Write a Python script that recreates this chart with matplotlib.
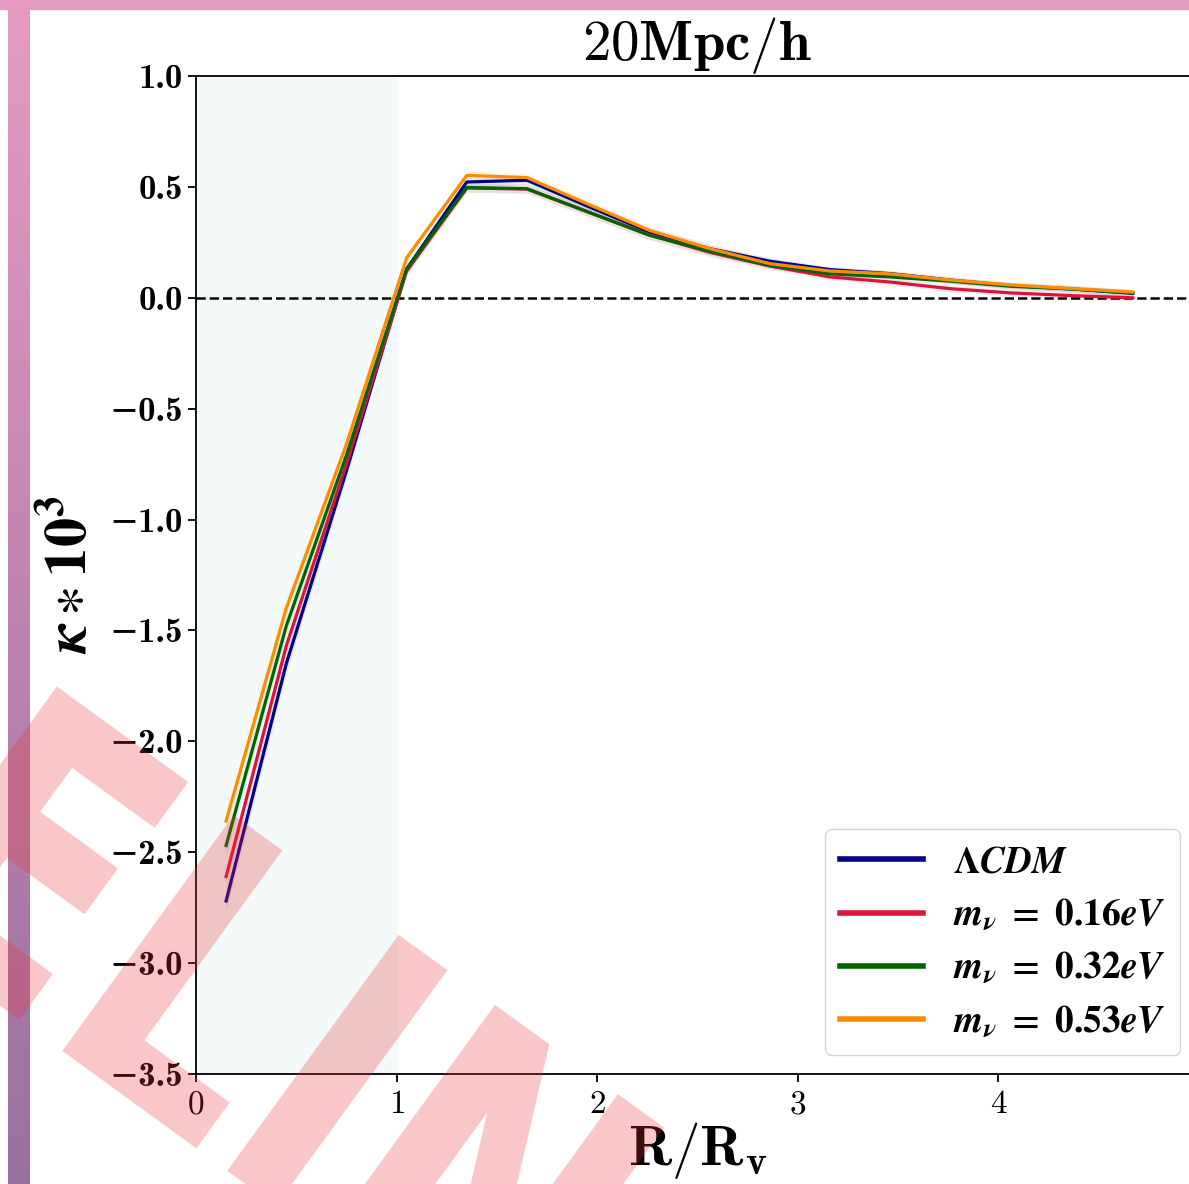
import matplotlib
matplotlib.use("Agg")
import matplotlib.pyplot as plt
import numpy as np
from matplotlib.textpath import TextPath
from matplotlib.patches import PathPatch
from matplotlib.font_manager import FontProperties
from matplotlib.transforms import Affine2D

plt.rcParams.update({
    "mathtext.fontset": "cm",
    "font.size": 24,
    "axes.linewidth": 1.3,
})

# kappa profile around voids, 20 Mpc/h smoothing
r_over_rv = [0.15, 0.45, 0.75, 1.05, 1.35, 1.65, 1.96, 2.26,
             2.56, 2.86, 3.16, 3.46, 3.76, 4.06, 4.36, 4.67]

kappa_lcdm = [-2.72, -1.65, -0.78, 0.13, 0.522, 0.530, 0.410, 0.297,
              0.222, 0.165, 0.127, 0.109, 0.080, 0.055, 0.040, 0.020]
kappa_016 = [-2.61, -1.57, -0.75, 0.12, 0.495, 0.490, 0.385, 0.284,
             0.205, 0.143, 0.094, 0.071, 0.041, 0.022, 0.010, 0.000]
kappa_032 = [-2.47, -1.48, -0.71, 0.13, 0.497, 0.492, 0.385, 0.282,
             0.210, 0.146, 0.108, 0.094, 0.075, 0.052, 0.040, 0.022]
kappa_053 = [-2.36, -1.40, -0.66, 0.18, 0.552, 0.542, 0.420, 0.304,
             0.222, 0.154, 0.121, 0.108, 0.080, 0.058, 0.042, 0.026]

# error on the mean (same for all runs)
kappa_err = [0.05, 0.04, 0.03, 0.02, 0.02, 0.02, 0.02, 0.02,
             0.02, 0.015, 0.015, 0.015, 0.015, 0.015, 0.015, 0.015]

labels = [r"$\mathbf{\Lambda}\mathbfit{CDM}$",
          r"$\mathbfit{m_{\nu}}\ \mathbf{=}\ \mathbf{0.16}\mathbfit{eV}$",
          r"$\mathbfit{m_{\nu}}\ \mathbf{=}\ \mathbf{0.32}\mathbfit{eV}$",
          r"$\mathbfit{m_{\nu}}\ \mathbf{=}\ \mathbf{0.53}\mathbfit{eV}$"]
colors = ["darkblue", "crimson", "darkgreen", "darkorange"]
profiles = [kappa_lcdm, kappa_016, kappa_032, kappa_053]

yticks = [1.0, 0.5, 0.0, -0.5, -1.0, -1.5, -2.0, -2.5, -3.0, -3.5]
xticks = [0, 1, 2, 3, 4]

W, H = 1189, 1184
fig = plt.figure(figsize=(W / 100, H / 100), dpi=100)
ax = fig.add_axes([196 / W, 110 / H, (1199 - 196) / W, (1074 - 76) / H])

ax.axvspan(0, 1, color="#f4fafa", zorder=0)
ax.axhline(0, color="black", ls="--", lw=1.8, zorder=1)

x = np.array(r_over_rv)
err = np.array(kappa_err)
for prof, c, lab in zip(profiles, colors, labels):
    y = np.array(prof)
    ax.fill_between(x, y - err, y + err, color=c, alpha=0.08, lw=0)
    ax.plot(x, y, color=c, lw=2.3, label=lab)

ax.set_xlim(0, 5)
ax.set_ylim(-3.5, 1.0)
ax.set_xticks(xticks)
ax.set_xticklabels([r"$%d$" % t for t in xticks], fontsize=24)
ax.set_yticks(yticks)
ax.set_yticklabels([("%.1f" % t).replace("-", "\u2212") for t in yticks],
                   fontsize=25, family=["cmb10", "DejaVu Sans"])
ax.tick_params(length=6, width=1.3)
ax.spines["right"].set_visible(False)

ax.set_title(r"$20\mathbf{Mpc/h}$", fontsize=41, pad=4)
ax.set_xlabel(r"$\mathbf{R/R_v}$", fontsize=41, labelpad=0)
ax.set_ylabel(r"$\mathbfit{\kappa} \ast \mathbf{10^3}$", fontsize=42,
              math_fontfamily="stix", labelpad=8)

leg = ax.legend(loc="lower right", fontsize=27, handlelength=2.2,
                framealpha=0.8, edgecolor="#cccccc", labelspacing=0.45)
for t in leg.get_texts():
    t.set_math_fontfamily("stix")
for h in leg.get_lines():
    h.set_linewidth(4)

# page border: top strip and a shaded bar on the left
fig.patches.append(plt.Rectangle((0, 1 - 9 / H), 1, 9 / H, transform=fig.transFigure,
                                 color="#e59ac2", zorder=5))
bar = fig.add_axes([8 / W, 0, 22 / W, 1 - 9 / H])
grad = np.linspace(0, 1, 256).reshape(-1, 1)
top_c = np.array([229, 154, 194]) / 255
bot_c = np.array([154, 112, 160]) / 255
img = top_c[None, None, :] * (1 - grad[:, :, None]) + bot_c[None, None, :] * grad[:, :, None]
bar.imshow(img, aspect="auto")
bar.axis("off")

# stamp across the lower left corner
fp = FontProperties(family="DejaVu Sans", weight="bold")
tp = TextPath((0, 0), "ELIN", size=1, prop=fp)
em = 400
stamp_tr = (Affine2D().translate(-0.77, 0).scale(em * 0.8, em)
            .rotate_deg(-36).translate(61, H - 1050))
stamp = PathPatch(tp, transform=stamp_tr, facecolor=(0.92, 0.2, 0.2),
                  edgecolor="none", alpha=0.27, zorder=20)
fig.add_artist(stamp)

fig.savefig("out.png", dpi=100)
